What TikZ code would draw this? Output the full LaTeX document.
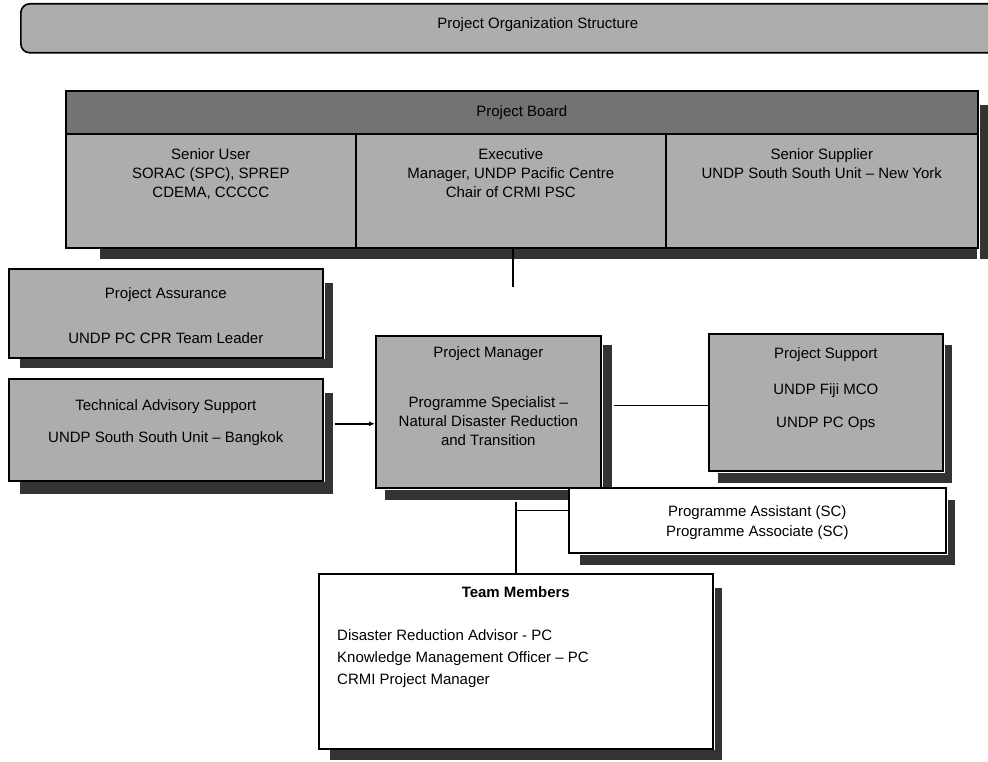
\documentclass[tikz,border=0pt]{standalone}
\usepackage{fontspec}
\setmainfont{Liberation Sans}
\usetikzlibrary{positioning, arrows.meta}

\definecolor{dither}{gray}{0.68}
\definecolor{ditherdark}{gray}{0.45}
\definecolor{shade}{gray}{0.2}

\tikzset{
  orgbox/.style={draw=black, line width=1.6pt, fill=dither, inner sep=0pt, anchor=north west},
  plainbox/.style={draw=black, line width=1.6pt, fill=white, inner sep=0pt, anchor=north west},
  shadowbar/.style={fill=shade},
  boxtext/.style={align=center, font=\fontsize{15}{19}\selectfont, inner sep=0pt},
  link/.style={line width=1.5pt},
}

\begin{document}
\begin{tikzpicture}[x=1pt, y=-1pt, >={Latex[length=6pt, width=5pt]}]
\useasboundingbox (0,0) rectangle (988,762);

% Title bar
\node[orgbox, rounded corners=9pt, minimum width=990, minimum height=49] (title) at (20,3) {};
\node[boxtext] (titleText) at ([xshift=22pt, yshift=4pt]title.center) {Project Organization Structure};

% Project Board
\node[orgbox, fill=ditherdark, minimum width=912, minimum height=43] (boardHead) at (65,90) {};
\node[boxtext] (boardText) at (boardHead.center) {Project Board};
\fill[shadowbar] (100,249) rectangle (977,259);
\fill[shadowbar] (980,105) rectangle (988,259);
\node[orgbox, minimum width=290, minimum height=114] (seniorUser) at (65,133) {};
\node[orgbox, minimum width=310, minimum height=114] (executive) at (355,133) {};
\node[orgbox, minimum width=312, minimum height=114] (seniorSupplier) at (665,133) {};
\node[boxtext, below=15pt of seniorUser.north] (seniorUserText) {Senior User\\SORAC (SPC), SPREP\\CDEMA, CCCCC};
\node[boxtext, below=15pt of executive.north] (executiveText) {Executive\\Manager, UNDP Pacific Centre\\Chair of CRMI PSC};
\node[boxtext, below=15pt of seniorSupplier.north] (seniorSupplierText) {Senior Supplier\\UNDP South South Unit -- New York};
\coordinate (boardDrop) at (513,287);
\draw[link] (boardDrop |- executive.south) -- (boardDrop);

% Project Assurance
\fill[shadowbar] (20,359) rectangle (333,368);
\fill[shadowbar] (325,283) rectangle (333,368);
\node[orgbox, minimum width=314, minimum height=89] (assurance) at (8,268) {};
\node[boxtext] (assuranceText) at ([yshift=-2pt]assurance.center) {Project Assurance\\[26pt]UNDP PC CPR Team Leader};

% Technical Advisory Support
\fill[shadowbar] (20,482) rectangle (333,494);
\fill[shadowbar] (325,393) rectangle (333,494);
\node[orgbox, minimum width=314, minimum height=102] (advisory) at (8,378) {};
\node[boxtext, below=21pt of advisory.north] (advisoryText) {Technical Advisory Support\\[13pt]UNDP South South Unit -- Bangkok};

% Project Manager
\fill[shadowbar] (385,490) rectangle (612,500);
\fill[shadowbar] (603,345) rectangle (612,500);
\node[orgbox, minimum width=225, minimum height=152] (manager) at (375,335) {};
\node[boxtext, below=11pt of manager.north] (managerText) {Project Manager\\[31pt]Programme Specialist --\\Natural Disaster Reduction\\and Transition};

% Project Support
\fill[shadowbar] (718,473) rectangle (952,483);
\fill[shadowbar] (945,345) rectangle (952,483);
\node[orgbox, minimum width=234, minimum height=137] (support) at (708,333) {};
\node[boxtext, below=14pt of support.north] (supportText) {Project Support\\[17pt]UNDP Fiji MCO\\[14pt]UNDP PC Ops};

% Programme Assistant
\fill[shadowbar] (580,555) rectangle (952,565);
\fill[shadowbar] (948,500) rectangle (955,565);
\node[plainbox, minimum width=377, minimum height=65] (assistant) at (568,487) {};
\node[boxtext, font=\fontsize{15}{20}\selectfont] (assistantText) at ([yshift=-2pt]assistant.center) {Programme Assistant (SC)\\Programme Associate (SC)};

% Team Members
\fill[shadowbar] (330,750) rectangle (722,760);
\fill[shadowbar] (715,588) rectangle (722,760);
\node[plainbox, minimum width=394, minimum height=175] (team) at (318,573) {};
\node[boxtext, font=\bfseries\fontsize{15}{19}\selectfont, below=13pt of team.north] (teamTitle) {Team Members};
\node[boxtext, align=left, font=\fontsize{15}{22}\selectfont, anchor=north west] (teamList) at ([xshift=19pt, yshift=-56pt]team.north west) {Disaster Reduction Advisor - PC\\Knowledge Management Officer -- PC\\CRMI Project Manager};

% Connectors
\coordinate (advisoryOut) at ([yshift=6pt]advisory.east);
\draw[link, ->] ([xshift=11pt]advisoryOut) -- (advisoryOut -| manager.west);
\draw[link] ([yshift=-3pt]support.west) -- ([xshift=12pt, yshift=-3pt]support.west -| manager.east);
\draw[link] ([yshift=-13pt]manager.south -| team.north) -- (team.north);
\draw[link] ([yshift=10pt]assistant.west) -- ([yshift=10pt]assistant.west -| team.north);
\end{tikzpicture}
\end{document}
